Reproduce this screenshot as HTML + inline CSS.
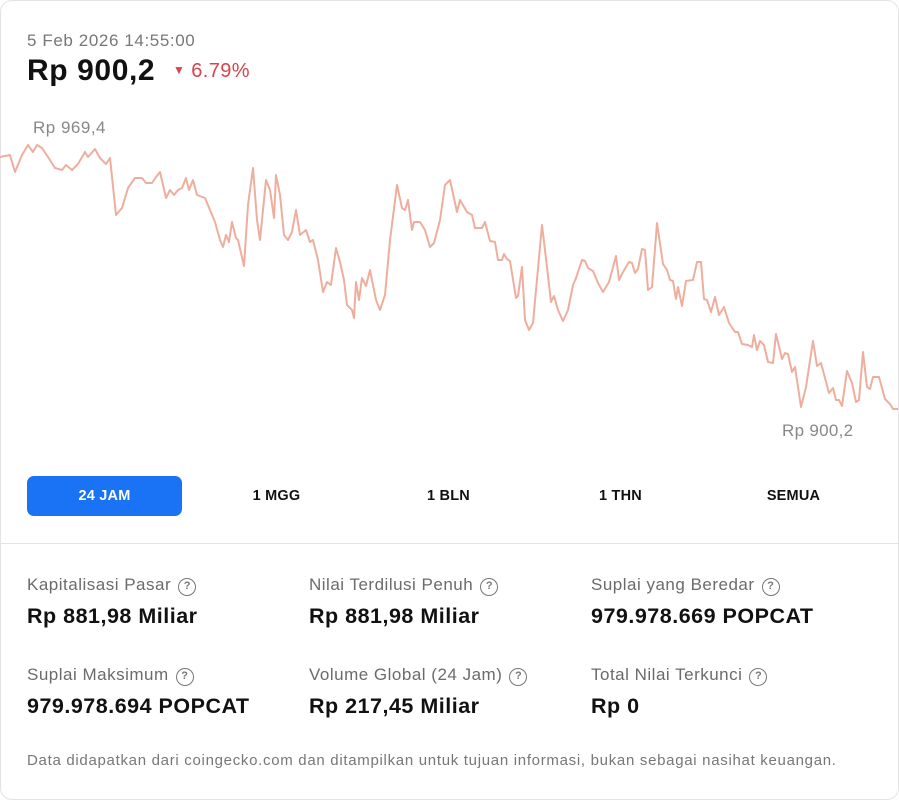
<!DOCTYPE html>
<html><head><meta charset="utf-8"><style>
*{margin:0;padding:0;box-sizing:border-box}
body{width:899px;height:800px;background:#fff;font-family:"Liberation Sans",sans-serif;overflow:hidden;position:relative}
.card{position:absolute;left:0;top:0;width:899px;height:800px;border:1px solid #e3e3e3;border-radius:12px}
.t{position:absolute;white-space:nowrap}
.btn{position:absolute;top:476px;height:40px;width:155px;line-height:40px;text-align:center;font-size:14.5px;font-weight:bold;color:#111;letter-spacing:0.2px}
.lab{font-size:17px;color:#6b6b6b;letter-spacing:0.5px}
.val{font-size:21.5px;font-weight:bold;color:#111;letter-spacing:0.5px}
.q{display:inline-block;width:18px;height:18px;border:1.5px solid #777;border-radius:50%;font-size:11px;line-height:15px;text-align:center;color:#777;margin-left:7px;vertical-align:1px;font-weight:bold;letter-spacing:0}
</style></head><body>
<div class="card"></div>
<div class="t" style="left:27px;top:31px;font-size:17px;color:#777;letter-spacing:0.6px">5 Feb 2026 14:55:00</div>
<div class="t" style="left:27px;top:54px;font-size:30px;font-weight:bold;color:#111;letter-spacing:0.6px">Rp 900,2</div>
<div class="t" style="left:173px;top:60px;font-size:20px;color:#d9434a;letter-spacing:0.4px"><span style="font-size:12px;vertical-align:3px">▼</span> 6.79%</div>
<div class="t" style="left:33px;top:118px;font-size:17px;color:#888;letter-spacing:0.5px">Rp 969,4</div>
<div class="t" style="left:782px;top:421px;font-size:17px;color:#888;letter-spacing:0.3px">Rp 900,2</div>
<svg style="position:absolute;left:0;top:0" width="899" height="470"><polyline fill="none" stroke="#eeae9e" stroke-width="2" stroke-linejoin="round" points="0,157 10,155 15,172 22,155 28,145 33,152 37,145 42,148 48,157 55,168 62,170 66,165 72,170 78,164 85,152 88,157 95,149 100,158 106,164 110,158 116,215 122,208 128,188 135,178 142,178 146,183 152,183 156,177 160,172 166,198 170,190 174,195 178,190 182,188 186,178 189,190 193,180 197,195 205,198 210,210 215,222 220,240 223,247 226,235 229,242 232,222 236,238 238,240 244,266 248,205 253,168 257,220 260,240 266,180 270,190 274,218 276,175 280,195 284,235 288,240 292,232 296,210 300,235 306,230 310,242 313,240 318,260 323,292 327,282 331,285 336,248 340,262 344,280 347,305 352,310 354,318 356,282 359,300 362,278 366,286 370,270 376,300 380,310 385,295 390,240 397,185 402,208 405,210 408,200 412,230 414,222 420,222 425,230 430,247 434,243 440,220 445,185 450,180 457,212 460,200 467,212 472,215 475,228 482,228 485,222 490,241 495,242 498,260 502,260 504,254 507,259 510,261 516,298 518,296 522,267 525,320 529,330 533,323 542,225 547,267 551,302 554,296 558,310 563,321 568,310 573,285 576,278 582,260 585,261 588,268 593,271 598,283 603,292 609,282 616,256 619,280 623,272 629,262 632,263 635,273 638,269 642,249 645,250 648,290 652,287 657,223 663,264 667,270 670,280 673,281 676,299 678,287 682,306 686,281 693,280 697,262 701,262 704,299 707,300 711,312 715,297 719,315 724,307 729,323 735,332 738,332 742,344 748,345 752,347 754,335 757,350 760,341 764,345 768,362 773,363 776,334 782,359 785,353 788,354 792,372 795,367 801,407 806,387 813,341 817,366 821,363 829,393 833,388 836,400 839,400 842,406 847,371 852,383 856,402 859,400 863,352 867,387 870,389 873,377 879,377 885,399 890,404 893,409 898,409"/></svg>
<div class="btn" style="left:27px;background:#1a73f5;color:#fff;border-radius:7px">24 JAM</div>
<div class="btn" style="left:199px">1 MGG</div>
<div class="btn" style="left:371px">1 BLN</div>
<div class="btn" style="left:543px">1 THN</div>
<div class="btn" style="left:716px">SEMUA</div>
<div style="position:absolute;left:0;top:543px;width:899px;height:1px;background:#e3e3e3"></div>
<div class="t lab" style="left:27px;top:575px">Kapitalisasi Pasar<span class="q">?</span></div>
<div class="t val" style="left:27px;top:604px">Rp 881,98 Miliar</div>
<div class="t lab" style="left:309px;top:575px">Nilai Terdilusi Penuh<span class="q">?</span></div>
<div class="t val" style="left:309px;top:604px">Rp 881,98 Miliar</div>
<div class="t lab" style="left:591px;top:575px">Suplai yang Beredar<span class="q">?</span></div>
<div class="t val" style="left:591px;top:604px">979.978.669 POPCAT</div>
<div class="t lab" style="left:27px;top:665px">Suplai Maksimum<span class="q">?</span></div>
<div class="t val" style="left:27px;top:694px">979.978.694 POPCAT</div>
<div class="t lab" style="left:309px;top:665px">Volume Global (24 Jam)<span class="q">?</span></div>
<div class="t val" style="left:309px;top:694px">Rp 217,45 Miliar</div>
<div class="t lab" style="left:591px;top:665px">Total Nilai Terkunci<span class="q">?</span></div>
<div class="t val" style="left:591px;top:694px">Rp 0</div>
<div class="t" style="left:27px;top:752px;font-size:15px;color:#777;letter-spacing:0.7px">Data didapatkan dari coingecko.com dan ditampilkan untuk tujuan informasi, bukan sebagai nasihat keuangan.</div>
</body></html>
